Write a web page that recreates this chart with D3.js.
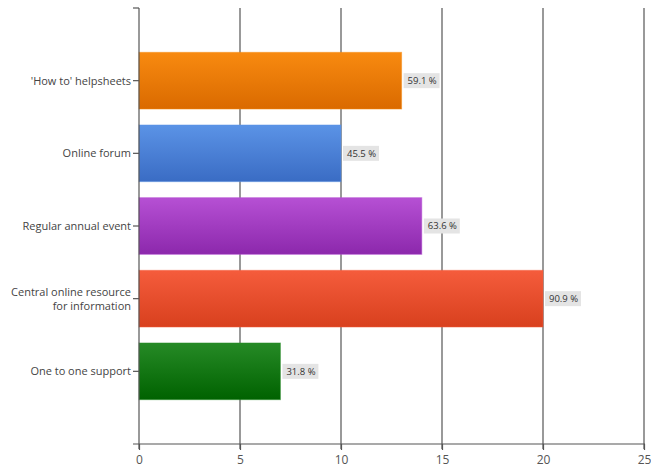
<!DOCTYPE html>
<html>
<head>
<meta charset="utf-8">
<script src="https://cdn.jsdelivr.net/npm/d3@7"></script>
<style>
  html, body { margin: 0; padding: 0; background: #fff; }
  svg { display: block; }
  text { font-family: "Open Sans", "Noto Sans", sans-serif; }
</style>
</head>
<body>
<svg id="chart" width="651" height="471"></svg>
<script>
// Survey responses (n = 22): answer options, respondent counts, percent labels
const categories = ["'How to' helpsheets", "Online forum", "Regular annual event", "Central online resource\nfor information", "One to one support"];
const counts = [13, 10, 14, 20, 7];
const percentLabels = ["59.1 %", "45.5 %", "63.6 %", "90.9 %", "31.8 %"];
const xTicks = [0, 5, 10, 15, 20, 25];
// top / bottom gradient stops per bar
const barTop = ["#f88a10", "#5b93e6", "#b650d4", "#f55c3c", "#268a26"];
const barBottom = ["#da6a00", "#3a6cc4", "#8c28ac", "#d8401e", "#006200"];

(function () {
  const svg = d3.select("#chart");
  const plotLeft = 139, plotRight = 644, plotTop = 8, plotBottom = 444;

  const x = d3.scaleLinear().domain([0, 25]).range([plotLeft, plotRight]);
  // categories sit at slots 5..1 of a 0..6 vertical scale
  const y = d3.scaleLinear().domain([0, categories.length + 1]).range([plotBottom, plotTop]);
  const slot = i => categories.length - i;
  const step = y(0) - y(1);
  const barH = step * 0.78;

  const defs = svg.append("defs");
  categories.forEach((c, i) => {
    const g = defs.append("linearGradient").attr("id", "grad" + i)
      .attr("x1", 0).attr("y1", 0).attr("x2", 0).attr("y2", 1);
    g.append("stop").attr("offset", "0%").attr("stop-color", barTop[i]);
    g.append("stop").attr("offset", "100%").attr("stop-color", barBottom[i]);
  });

  // vertical gridlines
  svg.append("g").selectAll("line").data(xTicks.slice(1)).join("line")
    .attr("x1", d => x(d)).attr("x2", d => x(d))
    .attr("y1", plotTop).attr("y2", plotBottom + 5)
    .attr("stroke", "#6e6e6e").attr("stroke-width", 1.4);

  // bars
  svg.append("g").selectAll("rect").data(counts).join("rect")
    .attr("x", x(0))
    .attr("y", (d, i) => y(slot(i)) - barH / 2)
    .attr("width", d => x(d) - x(0))
    .attr("height", barH)
    .attr("fill", (d, i) => `url(#grad${i})`)
    .attr("stroke", (d, i) => barTop[i])
    .attr("stroke-opacity", 0.5)
    .attr("stroke-width", 1);

  // value labels
  const vl = svg.append("g").selectAll("g").data(counts).join("g")
    .attr("transform", (d, i) => `translate(${x(d) + 2},${y(slot(i))})`);
  vl.append("rect")
    .attr("x", 0).attr("y", -7.5).attr("width", 36).attr("height", 15)
    .attr("fill", "#e4e4e4");
  vl.append("text")
    .attr("x", 4).attr("y", 0).attr("dy", "0.35em")
    .attr("font-size", 9.5).attr("fill", "#333")
    .text((d, i) => percentLabels[i]);

  // x axis
  const xAxis = svg.append("g").attr("transform", `translate(0,${plotBottom})`)
    .call(d3.axisBottom(x).tickValues(xTicks).tickSize(6).tickSizeOuter(0));
  xAxis.select(".domain").remove();
  xAxis.selectAll(".tick line").attr("stroke", "#555").attr("stroke-width", 1.2);
  xAxis.selectAll(".tick text").attr("font-size", 12).attr("fill", "#555")
    .attr("font-family", "'Open Sans', sans-serif").attr("dy", "0.9em");
  svg.append("line")
    .attr("x1", plotLeft - 6).attr("x2", plotRight + 1).attr("y1", plotBottom).attr("y2", plotBottom)
    .attr("stroke", "#555").attr("stroke-width", 1.2);

  // y axis line with category ticks
  svg.append("line")
    .attr("x1", plotLeft).attr("x2", plotLeft).attr("y1", plotTop).attr("y2", plotBottom + 5)
    .attr("stroke", "#555").attr("stroke-width", 1.2);
  svg.append("line")
    .attr("x1", plotLeft - 6).attr("x2", plotLeft).attr("y1", plotTop).attr("y2", plotTop)
    .attr("stroke", "#555").attr("stroke-width", 1.2);
  const yt = svg.append("g").selectAll("g").data(categories).join("g")
    .attr("transform", (d, i) => `translate(${plotLeft},${y(slot(i))})`);
  yt.append("line").attr("x1", -6).attr("x2", 0)
    .attr("stroke", "#555").attr("stroke-width", 1.2);
  yt.append("text")
    .attr("text-anchor", "end").attr("font-size", 11).attr("fill", "#444")
    .each(function (d) {
      const lines = d.split("\n");
      const t = d3.select(this);
      lines.forEach((ln, k) => {
        t.append("tspan").attr("x", -8)
          .attr("y", (k - (lines.length - 1) / 2) * 14)
          .attr("dy", "0.35em").text(ln);
      });
    });
})();
</script>
</body>
</html>
